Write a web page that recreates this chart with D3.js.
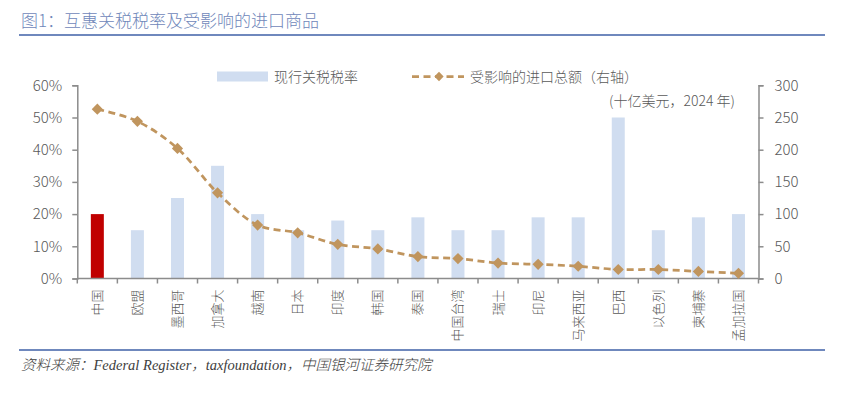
<!DOCTYPE html>
<html><head><meta charset="utf-8">
<script src="https://cdn.jsdelivr.net/npm/d3@7"></script>
<style>body{margin:0;background:#fff}svg{display:block}</style>
</head><body>
<script>
const categories = ["中国","欧盟","墨西哥","加拿大","越南","日本","印度","韩国","泰国","中国台湾","瑞士","印尼","马来西亚","巴西","以色列","柬埔寨","孟加拉国"];
const tariffRate = [20,15,25,35,20,15,18,15,19,15,15,19,19,50,15,19,20];
const importValue = [263,244,202,133,83,71,53,46,34,31,24,22,19,14,14,11,8];
const leftTicks = [0,10,20,30,40,50,60];
const rightTicks = [0,50,100,150,200,250,300];

const W = 850, H = 399;
const svg = d3.select("body").append("svg").attr("width", W).attr("height", H);
const cjk = "'Noto Sans CJK SC','Noto Sans',sans-serif";
const num = "'Noto Sans CJK SC','Noto Sans',sans-serif";
const axisColor = "#8c8c8c", textColor = "#595959";

// Title
svg.append("text").attr("x", 21).attr("y", 27).attr("font-family", cjk).attr("font-size", 17).attr("font-weight", 300)
  .attr("fill", "#6f87ba").text("图1：互惠关税税率及受影响的进口商品");
svg.append("line").attr("x1", 19).attr("x2", 825).attr("y1", 35).attr("y2", 35)
  .attr("stroke", "#6f88bd").attr("stroke-width", 2);

// footer
svg.append("line").attr("x1", 19).attr("x2", 825).attr("y1", 350).attr("y2", 350)
  .attr("stroke", "#6f88bd").attr("stroke-width", 2);
svg.append("text").attr("x", 21).attr("y", 370).attr("font-family", "'Liberation Serif','Noto Sans CJK SC',serif")
  .attr("font-style", "italic").attr("font-weight", 300).attr("font-size", 14.5).attr("fill", "#404040")
  .text("资料来源：Federal Register，taxfoundation，中国银河证券研究院");

const x0 = 77.3, x1 = 758.5, yTop = 85.3, yBot = 278.5;
const x = d3.scaleBand().domain(categories).range([x0, x1]).padding(0);
const yL = d3.scaleLinear().domain([0, 60]).range([yBot, yTop]);
const yR = d3.scaleLinear().domain([0, 300]).range([yBot, yTop]);

// bars
const bw = 13;
svg.append("g").selectAll("rect").data(categories).join("rect")
  .attr("x", d => x(d) + x.bandwidth()/2 - bw/2)
  .attr("width", bw)
  .attr("y", (d,i) => yL(tariffRate[i]))
  .attr("height", (d,i) => yBot - yL(tariffRate[i]))
  .attr("fill", (d,i) => i === 0 ? "#c00000" : "#d0ddf0");

// left axis
const gL = svg.append("g").attr("transform", `translate(${x0},0)`)
  .call(d3.axisLeft(yL).tickValues(leftTicks).tickFormat(d => d + "%").tickSize(5).tickSizeOuter(5).tickPadding(10));
// right axis
const gR = svg.append("g").attr("transform", `translate(${x1},0)`)
  .call(d3.axisRight(yR).tickValues(rightTicks).tickSize(5).tickSizeOuter(5).tickPadding(11));
[gL, gR].forEach(g => {
  g.select(".domain").attr("stroke", axisColor).attr("stroke-width", 1.5);
  g.selectAll(".tick line").attr("stroke", axisColor).attr("stroke-width", 1.5);
  g.selectAll(".tick text").attr("font-family", num).attr("font-size", 15).attr("font-weight", 300).attr("fill", textColor);
});

// bottom axis
const gB = svg.append("g").attr("transform", `translate(0,${yBot})`);
gB.append("line").attr("x1", x0).attr("x2", x1).attr("stroke", axisColor).attr("stroke-width", 1.5);
const bounds = categories.map(d => x(d)).concat([x1]);
gB.selectAll("line.tk").data(bounds).join("line").attr("class", "tk")
  .attr("x1", d => d).attr("x2", d => d).attr("y1", 0).attr("y2", 5)
  .attr("stroke", axisColor).attr("stroke-width", 1.5);
gB.selectAll("text").data(categories).join("text")
  .attr("transform", d => `translate(${x(d) + x.bandwidth()/2 + 4.5},11) rotate(-90)`)
  .attr("text-anchor", "end").attr("font-family", cjk).attr("font-size", 13).attr("font-weight", 300).attr("fill", textColor)
  .text(d => d);

// line series
const lineColor = "#c0955e";
const pts = categories.map((d,i) => [x(d) + x.bandwidth()/2, yR(importValue[i])]);
svg.append("path").attr("d", d3.line().curve(d3.curveCatmullRom.alpha(0.5))(pts))
  .attr("fill", "none").attr("stroke", lineColor).attr("stroke-width", 2.75).attr("stroke-dasharray", "7,4.5");
svg.append("g").selectAll("path").data(pts).join("path")
  .attr("transform", d => `translate(${d[0]},${d[1]})`)
  .attr("d", d3.symbol().type(d3.symbolDiamond2).size(80))
  .attr("fill", lineColor);

// legend
svg.append("rect").attr("x", 217).attr("y", 71.5).attr("width", 51).attr("height", 10).attr("fill", "#d0ddf0");
svg.append("text").attr("x", 274).attr("y", 81.5).attr("font-family", cjk).attr("font-size", 14).attr("font-weight", 300).attr("fill", textColor).text("现行关税税率");
svg.append("line").attr("x1", 412).attr("x2", 464).attr("y1", 76.5).attr("y2", 76.5)
  .attr("stroke", lineColor).attr("stroke-width", 2.75).attr("stroke-dasharray", "7,4.5");
svg.append("path").attr("transform", "translate(439,76.5)").attr("d", d3.symbol().type(d3.symbolDiamond2).size(55)).attr("fill", lineColor);
svg.append("text").attr("x", 470).attr("y", 81.5).attr("font-family", cjk).attr("font-size", 14).attr("font-weight", 300).attr("fill", textColor).text("受影响的进口总额（右轴）");

// unit
svg.append("text").attr("x", 609).attr("y", 106).attr("font-family", cjk).attr("font-weight", 300)
  .attr("font-size", 14).attr("fill", textColor).text("(十亿美元，2024 年)");
</script>
</body></html>
